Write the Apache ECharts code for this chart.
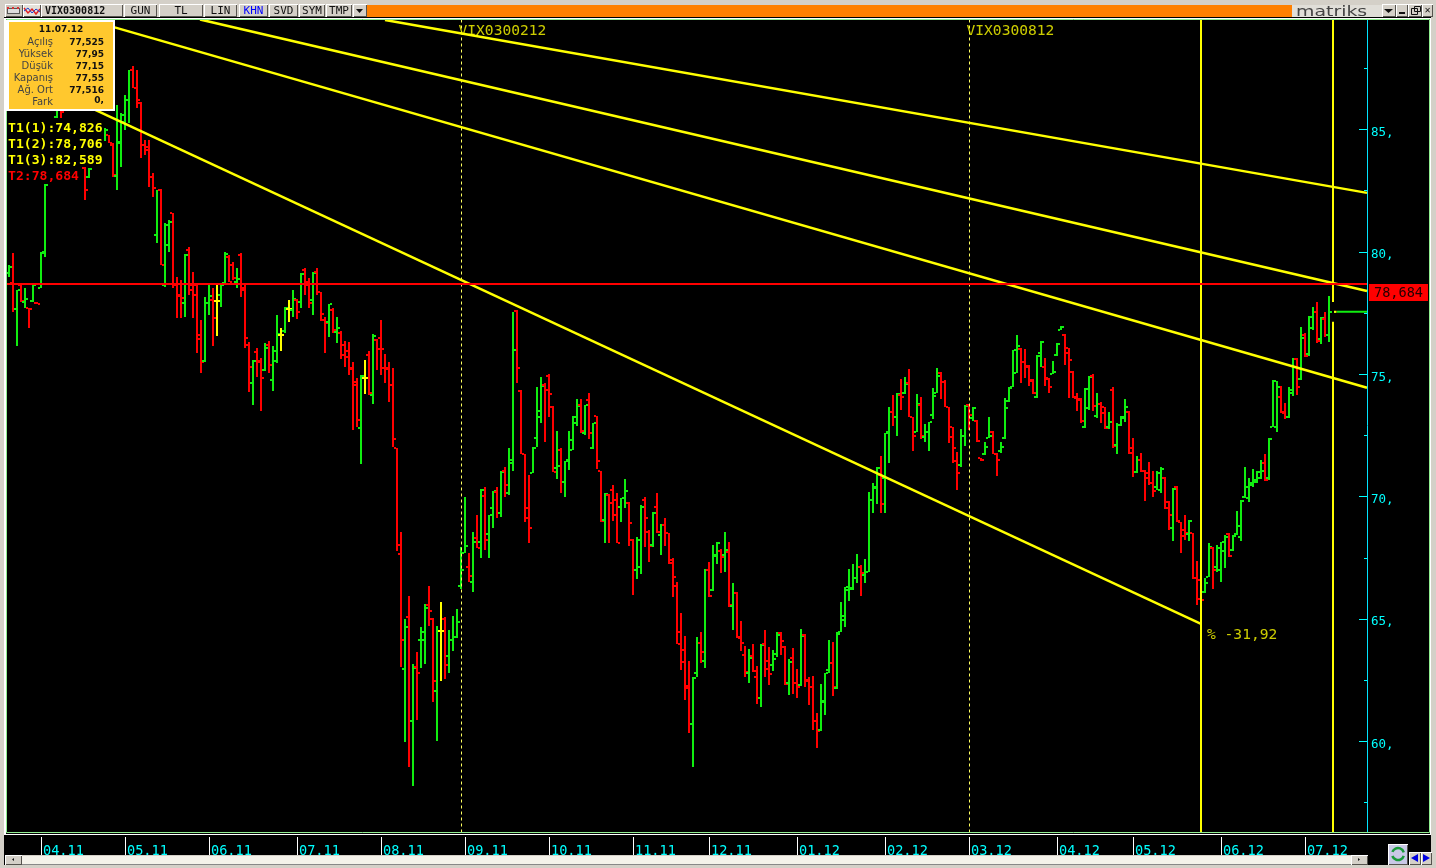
<!DOCTYPE html>
<html><head><meta charset="utf-8">
<style>html,body{margin:0;padding:0;background:#000;overflow:hidden}#c{width:1436px;height:868px}</style>
<script src="https://cdn.jsdelivr.net/npm/echarts@6/dist/echarts.min.js"></script>
</head><body><div id="c"></div>
<script>
const highs=[79.46,79.95,78.44,78.69,78.52,77.71,78.65,77.95,80.0,82.81,82.93,85.18,86.61,86.81,85.18,85.18,85.3,84.97,84.77,83.47,83.42,84.97,85.18,85.3,85.06,84.77,84.45,86,85.67,86.41,87.43,87.6,87.43,86.12,84.57,84.57,83.22,82.52,82.56,81.18,81.3,81.59,78.97,78.85,79.91,80.2,79.18,78.69,77.22,78.16,78.65,78.52,78.65,78.73,80.0,79.87,79.59,79.34,79.95,78.65,76.32,75.59,76.07,75.67,76.28,76.36,76.16,77.42,76.89,77.75,78.04,78.44,78.08,79.14,79.34,78.93,79.18,79.34,78.36,77.34,77.87,77.71,77.34,76.77,76.36,76.32,75.5,74.85,74.97,75.59,75.95,76.65,76.44,77.22,75.83,75.5,75.26,71.99,68.56,65.0,65.94,63.17,63.66,64.68,65.62,66.35,65.04,64.72,65.7,65.09,64.56,65.13,65.41,67.95,69.99,67.7,68.56,69.25,70.31,70.39,69.25,70.23,70.39,71.05,71.21,71.99,77.54,77.63,74.36,71.74,70.89,72.03,74.48,74.89,74.65,75.01,73.71,72.69,71.99,71.46,72.69,73.3,74.0,74.0,73.75,74.24,73.01,73.3,71.05,70.15,70.11,70.48,70.15,69.95,70.72,69.78,68.27,68.35,69.66,69.99,68.64,69.37,70.15,68.89,69.13,68.52,67.5,66.52,65.25,64.31,63.29,62.63,64.27,64.47,67.05,67.33,68.03,68.15,67.87,68.56,68.15,66.48,66.11,64.92,63.9,63.78,63.98,63.08,63.98,64.56,63.86,63.74,64.47,64.47,63.9,63.37,63.82,62.96,64.6,64.39,62.63,62.67,61.16,62.35,62.8,64.15,64.06,64.47,65.7,66.31,67.05,67.25,67.66,67.21,67.46,70.19,70.56,71.21,71.66,72.6,73.66,74.15,74.24,74.81,74.89,75.22,73.26,74.2,74.07,72.97,73.05,74.44,75.26,75.09,74.77,73.66,72.85,71.83,72.77,73.75,73.79,73.66,73.14,71.58,72.23,73.26,72.69,71.79,72.23,74.03,74.48,75.99,76.61,76.07,76.03,75.38,74.81,75.79,76.36,75.67,74.85,75.54,76.28,76.97,76.65,76.07,75.14,74.24,74.03,74.44,74.93,75.01,74.24,73.87,73.66,73.46,74.48,73.01,73.3,74.0,73.5,72.4,71.66,71.79,71.09,71.42,71.05,71.05,71.21,70.81,69.82,70.36,70.44,68.97,69.25,69.05,68.52,67.37,67.42,66.68,68.11,67.95,68.03,68.15,68.43,68.52,68.43,69.41,69.87,71.21,70.77,71.13,71.05,71.5,71.74,72.4,74.77,74.73,74.52,73.83,74.48,75.67,75.67,76.93,76.69,77.38,77.75,77.95,77.34,77.54,78.2,77.95];
const lows=[78.98,77.54,76.16,77.95,77.71,76.89,77.95,77.87,78.52,79.79,82.77,83.0,85.47,85.47,83.75,83.55,83.75,83.51,83.51,82.12,83.0,83.75,84.16,84.24,84.53,84.45,83.06,82.52,83.47,84.97,85.26,86.69,85.88,83.84,83.96,82.65,82.24,80.36,79.46,78.56,80.0,78.52,77.3,77.3,77.34,78.24,77.3,75.87,75.05,75.5,77.42,76.16,76.56,77.75,78.65,78.77,78.85,78.52,78.16,76.07,74.28,73.75,74.89,73.5,75.14,75.05,74.32,75.46,75.95,76.69,77.14,77.34,77.26,77.71,78.24,77.71,77.42,78.24,77.18,75.87,76.52,76.69,76.28,75.63,75.3,74.97,72.73,72.85,71.34,74.2,74.15,73.79,75.18,74.97,74.65,73.87,72.03,67.78,63.04,59.98,58.96,58.18,60.88,63.0,63.17,64.72,61.62,60.02,62.47,62.55,62.8,63.7,64.23,66.23,67.7,66.52,66.11,67.91,67.5,67.83,67.5,68.72,69.13,69.17,69.99,70.07,71.05,74.65,71.74,68.97,68.11,70.97,72.03,73.01,72.23,73.26,71.01,70.72,70.15,69.99,71.09,71.91,72.89,72.6,72.52,72.36,71.95,71.13,68.97,68.11,68.11,69.01,68.11,68.97,69.54,67.99,65.99,66.64,66.84,67.95,67.33,67.95,68.52,67.62,67.99,67.25,65.9,63.98,62.92,61.7,60.35,58.96,62.63,63.2,63.0,65.9,66.15,67.25,66.88,66.92,65.49,64.56,64.23,63.7,62.63,62.39,62.84,61.53,61.41,62.63,62.31,62.88,63.45,63.53,62.31,61.9,61.94,61.78,62.27,62.23,61.49,60.47,59.74,60.43,61.09,62.8,61.86,62.15,64.47,64.68,65.74,66.19,66.48,65.94,66.48,66.92,69.33,69.7,69.33,69.33,71.38,72.89,72.48,73.54,74.2,73.26,71.87,72.64,72.36,72.23,71.87,73.18,74.24,74.0,73.66,72.2,71.38,70.28,71.21,72.07,72.73,73.09,72.23,71.46,71.71,72.4,71.74,70.85,71.79,72.36,73.87,74.48,75.05,74.65,74.85,74.52,74.2,74.03,75.3,74.52,74.24,75.01,75.75,76.81,75.38,74.03,74.03,73.5,73.01,72.81,73.54,73.5,73.22,73.01,72.77,72.77,71.99,71.74,72.89,73.05,71.74,70.81,70.97,71.01,69.82,70.48,69.99,70.28,70.15,69.5,68.64,68.19,68.97,67.7,68.23,68.19,66.64,65.58,65.45,66.07,66.72,66.23,66.92,66.52,67.09,67.54,67.78,68.43,68.19,69.95,69.78,70.4,70.56,70.72,70.64,70.69,72.85,72.64,73.42,73.18,73.22,74.11,74.15,74.77,75.71,75.75,76.81,76.28,76.24,76.52,76.32,77.15];
const opens=[79.14,78.73,77.67,78.65,77.95,77.71,77.99,77.91,78.52,80.0,82.81,83.34,85.51,86.41,85.18,84.16,84.97,83.96,84.57,83.42,83.06,83.75,84.77,84.32,84.65,84.77,84.36,83.1,84.45,85.3,86.2,87.43,86.69,86.08,84.36,84.16,83.06,80.69,82.52,78.65,80.28,81.59,78.65,78.24,77.91,80.07,78.65,78.65,76.61,75.55,77.91,78.04,77.99,78.24,78.65,79.79,79.46,78.77,79.87,78.52,76.2,74.65,75.91,75.5,75.18,76.2,74.77,75.55,76.6,76.77,77.67,77.63,78.04,77.95,79.26,78.77,78.04,79.18,78.36,77.22,77.14,77.63,76.73,76.69,76.2,75.95,75.26,74.69,72.81,74.85,75.79,74.15,76.4,76.48,75.26,75.26,74.56,71.99,67.66,62.96,65.09,60.84,63.04,64.15,64.15,65.58,65.0,62.06,64.52,65.0,63.49,64.15,64.27,66.35,67.7,67.13,66.52,68.31,68.15,70.03,68.48,69.54,70.19,69.33,71.05,70.15,71.38,77.58,74.32,71.74,69.13,70.97,72.4,73.5,74.56,74.93,73.67,71.17,71.91,70.6,71.5,72.32,73.01,73.75,72.6,73.95,71.99,73.3,71.05,69.05,70.07,70.28,69.87,69.58,69.95,69.74,68.23,67.01,67.13,69.87,68.56,68.03,69.58,68.43,68.84,68.52,67.42,66.35,64.47,63.25,62.27,60.72,62.8,64.02,63.29,67.01,66.19,67.62,67.78,67.62,67.74,65.54,66.07,64.23,63.53,62.8,63.49,62.63,61.78,63.98,63.29,63.12,63.57,64.43,63.86,62.39,63.41,62.39,62.31,64.35,62.51,62.23,60.84,60.47,61.62,62.92,63.21,62.19,64.47,64.97,66.19,66.23,66.68,67.13,66.8,66.92,69.87,70.39,70.89,70.76,72.64,73.46,73.26,74.15,74.24,74.65,73.26,72.64,73.75,72.44,72.64,73.34,74.24,75.05,74.69,73.66,72.85,71.46,71.29,72.48,73.75,73.22,73.09,71.58,71.75,72.4,72.64,71.74,71.87,72.4,73.91,74.48,75.05,76.03,75.5,75.34,74.73,74.07,75.87,75.3,74.81,75.01,75.79,76.81,76.61,76.07,75.09,74.03,73.99,72.85,73.62,74.93,73.3,73.79,73.66,72.85,74.36,72.11,72.93,73.22,73.46,71.99,71.01,71.5,71.05,70.97,70.56,70.4,70.28,70.76,69.78,68.72,70.4,68.97,68.64,68.48,68.52,66.68,66.6,66.11,66.72,67.91,67.13,67.01,67.78,68.48,67.82,68.48,68.35,69.99,69.95,70.48,70.6,70.76,71.38,70.76,72.85,72.85,74.07,73.42,73.26,74.24,75.63,74.81,76.61,75.83,76.89,77.54,76.44,77.26,76.61,77.525];
const closes=[79.38,77.67,78.44,77.99,78.08,77.67,78.65,77.89,79.96,82.73,83.26,84.97,86.41,85.71,84.16,84.97,83.96,84.77,83.55,82.52,83.38,84.77,84.24,85.14,84.97,84.45,83.14,84.49,85.59,86.2,87.43,86.69,86.2,84.36,84.28,83.06,82.61,82.52,79.46,81.1,81.22,78.65,78.2,78.12,79.87,78.44,78.24,76.44,75.5,77.91,78.2,77.3,77.99,78.73,79.91,78.77,78.93,78.89,78.44,76.48,75.3,75.55,75.55,74.85,76.07,75.38,75.95,76.65,76.6,77.71,77.67,78.08,77.54,79.09,78.65,77.91,79.14,78.36,77.46,77.1,77.87,76.81,76.89,75.79,75.71,75.22,74.56,73.14,74.93,74.85,74.24,76.56,76.03,76.03,75.22,74.56,72.36,68.03,64.15,64.68,60.84,63.0,62.8,64.47,65.45,65.33,62.47,64.52,64.52,63.13,64.15,64.27,64.88,67.01,67.99,66.76,68.15,67.91,70.28,68.23,69.25,70.23,69.33,71.01,70.48,71.5,75.99,75.26,71.74,69.54,68.72,71.99,73.26,74.52,74.36,74.2,71.01,71.25,70.6,71.46,71.91,73.26,73.71,72.69,73.75,72.6,73.01,71.46,69.01,70.11,69.74,69.25,68.11,69.95,70.23,68.92,67.01,68.23,69.58,69.13,67.99,69.33,68.56,68.84,68.52,67.29,66.72,63.98,63.74,62.19,60.72,62.59,64.02,63.66,67.01,65.94,67.58,68.11,67.54,67.83,65.58,66.07,64.27,64.02,62.84,63.41,62.88,61.78,63.94,62.96,62.76,63.37,64.35,64.11,62.35,63.25,62.39,62.23,64.31,62.47,62.23,60.84,60.43,61.66,62.8,63.21,62.23,64.39,65.13,66.31,66.27,66.68,67.13,66.88,66.92,69.87,70.36,71.17,69.7,72.6,73.46,73.26,74.2,74.07,74.6,73.26,72.48,73.79,72.48,72.64,73.05,74.11,74.93,74.69,73.66,72.44,71.99,70.97,72.48,73.71,73.34,73.62,72.28,71.5,72.03,72.48,71.74,71.5,72.03,73.62,74.44,75.99,76.16,75.5,75.3,74.77,74.24,75.75,76.32,74.85,74.48,75.09,76.24,76.93,75.87,75.59,74.07,73.95,73.09,74.4,74.89,73.71,73.79,73.42,72.81,73.05,72.07,72.93,73.26,73.66,71.79,71.01,71.5,71.05,70.76,70.56,70.23,70.97,71.13,69.54,69.25,70.32,69.01,68.4,68.52,69.01,66.68,65.82,65.78,66.48,67.95,67.01,67.91,68.15,68.35,67.58,68.39,68.8,69.82,70.4,70.56,70.69,71.01,71.05,70.69,72.36,74.73,74.48,73.46,73.26,74.36,75.63,74.48,76.48,75.75,77.34,77.54,76.36,77.3,76.61,77.54,77.55];
const monthIndex=[8,29,50,72,93,114,135,156,175,197,219,240,262,281,303,324];
const monthLabels=['04.11','05.11','06.11','07.11','08.11','09.11','10.11','11.11','12.11','01.12','02.12','03.12','04.12','05.12','06.12','07.12'];
const majorTicks=[60,65,70,75,80,85];
const minorTicks=[57.5,62.5,67.5,72.5,77.5,82.5,87.5];
const trendA=[[-0.5,87.48],[298,64.80]];
const trendB=[[19.25,89.51],[339.5,74.45]];
const trendC=[[47.75,89.49],[339.5,78.40]];
const trendD=[[94,89.47],[339.5,82.41]];
const priceLevel=78.684;
const yMin=56.28,yMax=89.514,xMin=-0.5,xMax=339.5;
const cursorIndex=[298,331];
const contractIndex=[113.125,240.125];
const contractNames=['VIX0300212','VIX0300812'];
const contractLabelPrice=89.02;
const moveLabel='% -31,92',moveLabelPrice=64.36;
const infoDate='11.07.12';
const infoNames=['Açılış','Yüksek','Düşük','Kapanış','Ağ. Ort','Fark'];
const infoValues=['77,525','77,95','77,15','77,55','77,516','0,'];
const studyTexts=['T1(1):74,826','T1(2):78,706','T1(3):82,589'];
const levelText='T2:78,684',levelTag='78,684';
const toolbar=[['GUN',124,157],['TL',159,203],['LIN',204,237],['KHN',239,268],['SVD',269,298],['SYM',299,325],['TMP',326,352]];

const RED='#ff0000',GREEN='#10ee10',YEL='#ffff00',CY='#00ffff',GREY='#d4d0c8';
const MONO='"DejaVu Sans Mono",monospace',SANS='"DejaVu Sans",sans-serif';

function renderBar(p,api){
  const i=api.value(0),o=api.value(1),h=api.value(2),l=api.value(3),c=api.value(4);
  const x=Math.round(api.coord([i,o])[0]);
  const yo=Math.round(api.coord([i,o])[1]),yh=Math.round(api.coord([i,h])[1]),yl=Math.round(api.coord([i,l])[1]),yc=Math.round(api.coord([i,c])[1]);
  const col=c>o?GREEN:(c<o?RED:YEL);
  const r=(a,b,w,t)=>({type:'rect',shape:{x:a,y:b,width:w,height:t},style:{fill:col}});
  return {type:'group',children:[r(x-1,yh,2,Math.max(yl-yh,2)),r(x-3,yo-1,2,2),r(x+1,yc-1,2,2)]};
}
function lineS(pts,color,width,z,dash){
  return {type:'line',data:pts,showSymbol:false,silent:true,animation:false,z:z,clip:true,
    lineStyle:{color:color,width:width,type:dash||'solid',cap:'butt'},emphasis:{disabled:true}};
}
const barData=opens.map((o,i)=>[i,o,highs[i],lows[i],closes[i]]);
const last=opens.length-1;

function rect(x,y,w,h,fill,extra){return Object.assign({type:'rect',z:100,silent:true,shape:{x,y,width:w,height:h},style:{fill}},extra||{});}
function txt(s,x,y,font,color,align,extra){return Object.assign({type:'text',z:101,silent:true,x,y,style:{text:s,font,fill:color,align:align||'left',verticalAlign:'middle'}},extra||{});}
function bevel(x,y,w,h,fill){return [rect(x,y,w,h,'#fff'),rect(x+1,y+1,w-1,h-1,'#55534e'),rect(x+1,y+1,w-2,h-2,fill||GREY)];}
function chrome(){
  let g=[];
  g.push(rect(0,0,1436,17,GREY),rect(0,0,4,868,GREY),rect(1431,0,5,868,GREY),rect(0,865,1436,3,GREY));
  g.push(rect(4,17,1427,1,'#000'),rect(4,18,1427,1,'#fff'),rect(4,18,2,817,'#fff'),rect(1430,18,1,817,'#fff'));
  g.push({type:'rect',z:100,silent:true,shape:{x:6.5,y:19.5,width:1423,height:813},style:{fill:null,stroke:'#90ee90',lineWidth:1}});
  g.push(rect(4,834,1427,1,'#fff'));
  g.push(...bevel(5,4,18,13,'#c8c4bc'),rect(7,8,13,6,'#555'),rect(8,9,11,4,'#ddd'),rect(7,7,2,2,'#d33'),rect(12,7,2,2,'#d33'),rect(17,7,2,2,'#d33'));
  g.push(...bevel(23,4,18,13,'#e4e2da'));
  g.push({type:'polyline',z:101,silent:true,shape:{points:[[24,8],[28,13],[32,9],[36,14],[40,9]]},style:{stroke:'#e02020',fill:null,lineWidth:1.5}});
  g.push({type:'polyline',z:101,silent:true,shape:{points:[[24,11],[28,8],[32,13],[36,9],[40,12]]},style:{stroke:'#2040d0',fill:null,lineWidth:1}});
  g.push(...bevel(41,4,82,13),txt('VIX0300812',45,11.5,'bold 10px '+MONO,'#111'));
  toolbar.forEach(t=>{g.push(...bevel(t[1],4,t[2]-t[1],13));g.push(txt(t[0],(t[1]+t[2])/2,11.5,'11px '+MONO,t[0]==='KHN'?'#0000ff':'#111','center'));});
  g.push(...bevel(353,4,14,13));
  g.push({type:'polygon',z:101,silent:true,shape:{points:[[356,9],[363,9],[359.5,13]]},style:{fill:'#111'}});
  g.push(rect(367,5,925,12,'#ff8000'));
  g.push(rect(1292,5,90,12,'#e0ded8'),txt('matriks',1296,12,'14px '+SANS,'#444','left',{scaleX:1.35,originX:0,originY:0}));
  g.push(...bevel(1382,4,14,13),...bevel(1396,4,12,13),...bevel(1408,4,14,13),...bevel(1422,4,11,13));
  g.push({type:'polygon',z:101,silent:true,shape:{points:[[1384,9],[1393,9],[1388.5,13]]},style:{fill:'#111'}});
  g.push(rect(1399,12,6,2,'#111'),{type:'rect',z:101,silent:true,shape:{x:1411.5,y:8.5,width:6,height:6},style:{fill:null,stroke:'#111'}},{type:'rect',z:101,silent:true,shape:{x:1414.5,y:6.5,width:6,height:5},style:{fill:null,stroke:'#111'}});
  g.push(txt('✕',1427.5,11,'bold 8px '+SANS,'#111','center'));
  g.push(rect(6,20,109,91,'#fff'),rect(9,22,104,87,'#ffc82e'));
  g.push(txt(infoDate,61,30,'bold 9px '+SANS,'#111','center'));
  infoNames.forEach((n,i)=>{
    const y=42.5+i*11.95;
    g.push(txt(n,53,y,'10px '+SANS,'#444','right'));
    g.push(txt(infoValues[i],104,y-(i===5?1.5:0),'bold 9px '+SANS,'#111','right'));
  });
  g.push(rect(7,120,97,47,'#000'),rect(7,167,75,17,'#000'));
  studyTexts.forEach((s,i)=>g.push(txt(s,8,129+i*16,'bold 13.1px '+MONO,YEL)));
  g.push(txt(levelText,8,177,'bold 13.1px '+MONO,RED));
  g.push(rect(1369,284,59,17,RED),txt(levelTag,1398.5,293.5,'13.6px '+MONO,'#200','center'));
  g.push(rect(5,855,1363,10,'#f4f2ea'),rect(5,864,1363,1,'#888'),rect(5,855,1363,1,'#d4d0c8'));
  g.push(...bevel(5,855,17,10),...bevel(1351,855,17,10));
  g.push({type:'polygon',z:101,silent:true,shape:{points:[[14,858],[14,861],[12,859.5]]},style:{fill:'#111'}});
  g.push({type:'polygon',z:101,silent:true,shape:{points:[[1358,858],[1358,861],[1360,859.5]]},style:{fill:'#111'}});
  g.push(...bevel(1388,844,20,21,'#c9c8e6'));
  g.push({type:'arc',z:101,silent:true,shape:{cx:1398,cy:854,r:6,startAngle:0.3,endAngle:2.8},style:{stroke:'#1a9a3a',fill:null,lineWidth:2.5}});
  g.push({type:'arc',z:101,silent:true,shape:{cx:1398,cy:854,r:6,startAngle:3.5,endAngle:6},style:{stroke:'#1a9a3a',fill:null,lineWidth:2.5}});
  g.push(...bevel(1409,852,12,13),...bevel(1421,852,11,13));
  g.push({type:'polygon',z:101,silent:true,shape:{points:[[1418,854],[1418,862],[1411,858]]},style:{fill:'#0000e0'}});
  g.push({type:'polygon',z:101,silent:true,shape:{points:[[1423,854],[1423,862],[1430,858]]},style:{fill:'#0000e0'}});
  return g;
}
const labelMap={};monthIndex.forEach((m,i)=>labelMap[m]=monthLabels[i]);
const chart=echarts.init(document.getElementById('c'),null,{renderer:'canvas',width:1436,height:868});
const gridBox={left:7,top:19,width:1360,height:813.5,containLabel:false};
chart.setOption({
  animation:false,backgroundColor:'#000',
  grid:[gridBox,gridBox],
  xAxis:[
   {type:'value',gridIndex:0,min:xMin,max:xMax,splitLine:{show:false},axisLine:{show:false},offset:4.5,
    axisTick:{show:true,customValues:monthIndex,length:18,lineStyle:{color:'#fff',width:1}},
    axisLabel:{show:true,customValues:monthIndex,formatter:v=>labelMap[v]||'',color:CY,fontFamily:MONO,fontSize:13.6,align:'left',margin:7,padding:[0,0,0,2],hideOverlap:false}},
   {type:'value',gridIndex:1,min:xMin,max:xMax,show:false}
  ],
  yAxis:[
    {type:'value',gridIndex:0,position:'right',min:yMin,max:yMax,splitLine:{show:false},
     axisLine:{show:true,onZero:false,lineStyle:{color:'#00e5ff',width:1}},
     axisTick:{show:true,inside:true,customValues:majorTicks,length:8,lineStyle:{color:CY,width:1}},
     axisLabel:{show:true,customValues:majorTicks,formatter:v=>v+',',color:CY,fontFamily:MONO,fontSize:12.5,margin:4,verticalAlign:'top',lineHeight:6}},
    {type:'value',gridIndex:1,position:'right',min:yMin,max:yMax,splitLine:{show:false},
     axisLine:{show:false,onZero:false},axisLabel:{show:false},
     axisTick:{show:true,inside:true,customValues:minorTicks,length:3,lineStyle:{color:CY,width:1}}}
  ],
  series:[
    {type:'custom',renderItem:renderBar,data:barData,encode:{x:0,y:[2,3]},z:2,silent:true,animation:false,clip:true},
    lineS(trendA,YEL,2.5,4),lineS(trendB,YEL,2.5,4),lineS(trendC,YEL,2.5,4),lineS(trendD,YEL,2.5,4),
    lineS([[cursorIndex[0],yMin],[cursorIndex[0],yMax]],YEL,2,4),
    lineS([[cursorIndex[1],yMin],[cursorIndex[1],yMax]],YEL,2,4),
    lineS([[contractIndex[0],yMin],[contractIndex[0],yMax]],'#ffff60',1,3,[3,3]),
    lineS([[contractIndex[1],yMin],[contractIndex[1],yMax]],'#ffff60',1,3,[3,3]),
    lineS([[xMin,priceLevel],[xMax,priceLevel]],RED,2,5),
    lineS([[last,highs[last]],[last,lows[last]]],'#000',2,6),
    lineS([[last+0.25,closes[last]],[last+0.9,closes[last]]],YEL,2,7),
    lineS([[last+1,closes[last]],[xMax,closes[last]]],GREEN,2,7),
    {type:'scatter',symbolSize:0,silent:true,z:8,animation:false,clip:false,
     data:[
       {value:[contractIndex[0],contractLabelPrice,contractNames[0]],label:{position:[-3,0]}},
       {value:[contractIndex[1],contractLabelPrice,contractNames[1]],label:{position:[-3,0]}},
       {value:[cursorIndex[0],moveLabelPrice,moveLabel],label:{position:[6,0]}}
     ],
     label:{show:true,formatter:p=>p.value[2],color:YEL,fontFamily:MONO,fontSize:14.6,align:'left',verticalAlign:'middle'}}
  ],
  graphic:{elements:chrome()}
});
</script></body></html>
